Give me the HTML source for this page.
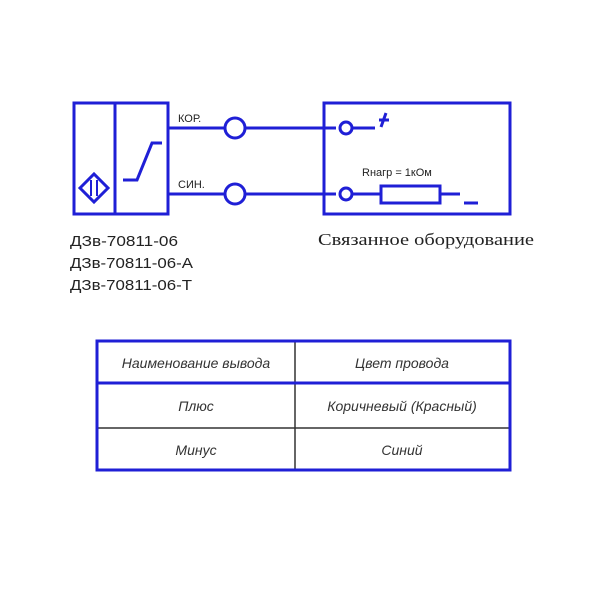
<!DOCTYPE html>
<html><head><meta charset="utf-8"><style>body{margin:0;background:#fff}</style></head><body>
<svg width="600" height="600" viewBox="0 0 600 600" xmlns="http://www.w3.org/2000/svg">
<g stroke="#1f1fd6" stroke-width="3" fill="none">
<rect x="74" y="103" width="94" height="111"/>
<line x1="115" y1="103" x2="115" y2="214"/>
<polygon points="80,188 94,174 108,188 94,202"/>
<line x1="91" y1="180" x2="91" y2="196" stroke-width="2"/>
<line x1="97" y1="180" x2="97" y2="196" stroke-width="2"/>
<polyline points="123,180 137,180 152,143 162,143"/>
<line x1="168" y1="128" x2="225" y2="128"/>
<line x1="245" y1="128" x2="336" y2="128"/>
<line x1="168" y1="194" x2="225" y2="194"/>
<line x1="245" y1="194" x2="336" y2="194"/>
<circle cx="235" cy="128" r="10" fill="#fff"/>
<circle cx="235" cy="194" r="10" fill="#fff"/>
<rect x="324" y="103" width="186" height="111"/>
<circle cx="346" cy="128" r="6" fill="#fff"/>
<circle cx="346" cy="194" r="6" fill="#fff"/>
<line x1="352" y1="128" x2="375" y2="128"/>
<line x1="352" y1="194" x2="381" y2="194"/>
<rect x="381" y="186" width="59" height="17"/>
<line x1="440" y1="194" x2="460" y2="194"/>
<line x1="464" y1="203" x2="478" y2="203"/>
<line x1="379" y1="120" x2="389" y2="120"/>
<line x1="386" y1="113" x2="381" y2="127"/>
</g>
<g font-family="Liberation Sans, sans-serif" fill="#222">
<text x="178" y="122" font-size="11">КОР.</text>
<text x="178" y="188" font-size="11">СИН.</text>
<text x="362" y="176" font-size="11">Rнагр = 1кОм</text>
<text x="70" y="246" font-size="15" textLength="108" lengthAdjust="spacingAndGlyphs">ДЗв-70811-06</text>
<text x="70" y="268" font-size="15" textLength="123" lengthAdjust="spacingAndGlyphs">ДЗв-70811-06-А</text>
<text x="70" y="290" font-size="15" textLength="122" lengthAdjust="spacingAndGlyphs">ДЗв-70811-06-Т</text>
</g>
<text x="318" y="245" font-family="Liberation Serif, serif" font-size="17" fill="#222" textLength="216" lengthAdjust="spacingAndGlyphs">Связанное оборудование</text>
<g stroke="#333" stroke-width="1.5">
<line x1="295" y1="341" x2="295" y2="470"/>
<line x1="97" y1="428" x2="510" y2="428"/>
</g>
<line x1="97" y1="383" x2="510" y2="383" stroke="#1f1fd6" stroke-width="3"/>
<rect x="97" y="341" width="413" height="129" stroke="#1f1fd6" stroke-width="3" fill="none"/>
<g font-family="Liberation Sans, sans-serif" font-style="italic" font-size="14" fill="#333" text-anchor="middle">
<text x="196" y="368">Наименование вывода</text>
<text x="402" y="368">Цвет провода</text>
<text x="196" y="411">Плюс</text>
<text x="402" y="411">Коричневый (Красный)</text>
<text x="196" y="455">Минус</text>
<text x="402" y="455">Синий</text>
</g>
</svg>
</body></html>
